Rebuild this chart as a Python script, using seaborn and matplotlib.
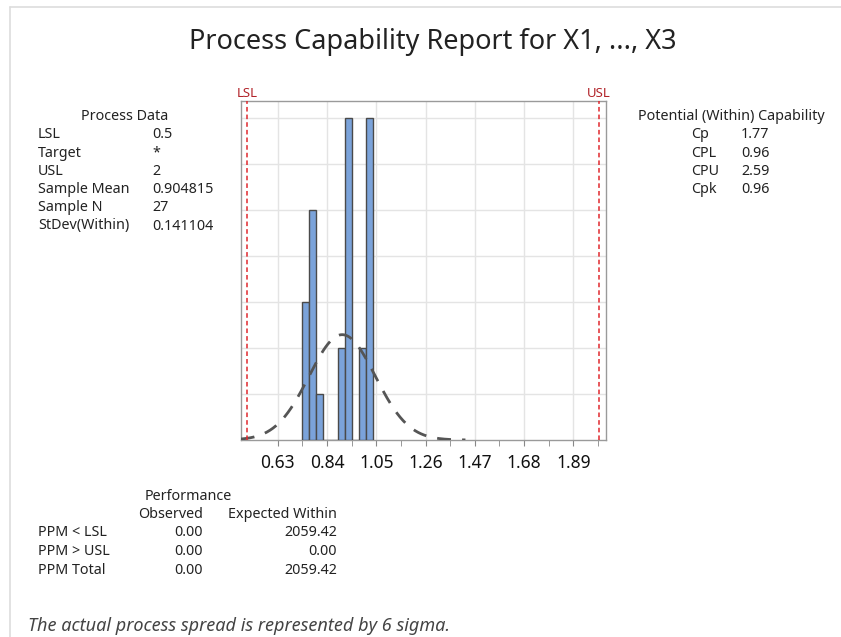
import numpy as np
import pandas as pd
import matplotlib.pyplot as plt
import seaborn as sns
from matplotlib.lines import Line2D

# ---- data ----
bin_edges = [0.735, 0.765, 0.795, 0.825, 0.855, 0.885, 0.915, 0.945, 0.975, 1.005, 1.035]
bin_counts = [3, 5, 1, 0, 0, 2, 7, 0, 2, 7]
lsl = 0.5
usl = 2.0
sample_mean = 0.904815
stdev_within = 0.141104
sample_n = 27
x_ticks = [0.63, 0.84, 1.05, 1.26, 1.47, 1.68, 1.89]

process_labels = ["LSL", "Target", "USL", "Sample Mean", "Sample N", "StDev(Within)"]
process_values = ["0.5", "*", "2", "0.904815", "27", "0.141104"]
cap_labels = ["Cp", "CPL", "CPU", "Cpk"]
cap_values = ["1.77", "0.96", "2.59", "0.96"]
perf_labels = ["PPM < LSL", "PPM > USL", "PPM Total"]
perf_observed = ["0.00", "0.00", "0.00"]
perf_expected = ["2059.42", "0.00", "2059.42"]

sns.set_style("white")
plt.rcParams['font.family'] = ['Noto Sans', 'DejaVu Sans']
TXT = "#222222"
FS = 10.3

fig = plt.figure(figsize=(8.41, 6.37), dpi=100)
W, H = 841, 637

def px(x, y):
    return x / W, 1 - y / H

# light frame like the report panel
fig.add_artist(Line2D([10 / W, 10 / W], [0, 1 - 7 / H], color="#dddddd", lw=1.2))
fig.add_artist(Line2D([10 / W, 1], [1 - 7 / H, 1 - 7 / H], color="#dddddd", lw=1.2))

ax = fig.add_axes([240.7 / W, 1 - 440 / H, (606 - 240.7) / W, (440 - 101) / H])

centers = [(bin_edges[i] + bin_edges[i + 1]) / 2 for i in range(len(bin_counts))]
df = pd.DataFrame({"x": centers, "n": bin_counts})
sns.histplot(data=df, x="x", weights="n", bins=bin_edges, ax=ax,
             color="#7BA3DA", edgecolor="#4a4a4a", linewidth=1.0, alpha=1, zorder=3)

# fitted normal (within) curve, scaled to counts
bw = bin_edges[1] - bin_edges[0]
xs = np.linspace(0.4723, 1.43, 300)
ys = sample_n * bw * np.exp(-0.5 * ((xs - sample_mean) / stdev_within) ** 2) / (stdev_within * np.sqrt(2 * np.pi))
sns.lineplot(x=xs, y=ys, ax=ax, color="#555555", lw=2, linestyle=(0, (5, 4)), zorder=4)

for v, lab in [(lsl, "LSL"), (usl, "USL")]:
    ax.axvline(v, color="#E0282E", lw=1.1, linestyle=(0, (3, 2)), zorder=5)
    ax.text(v, 1.003, lab, transform=ax.get_xaxis_transform(), ha="center", va="bottom",
            color="#B2242A", fontsize=9.5, fontweight="medium")

ax.set_xlim(0.4723, 2.029)
ax.set_ylim(0, 7.37)
ax.set_xticks(x_ticks)
ax.set_xticks([t + 0.105 for t in [0.525] + x_ticks], minor=True)
ax.set_yticks(range(1, 8))
ax.set_yticklabels([])
ax.tick_params(axis="y", length=0)
ax.tick_params(axis="x", which="both", direction="out", length=4, color="#888888", bottom=True)
ax.tick_params(axis="x", which="major", labelsize=12.5, labelcolor="#111111", pad=6)
for t in ax.get_xticklabels():
    t.set_fontweight("medium")
ax.grid(True, color="#e4e4e4", lw=1, zorder=0)
ax.set_axisbelow(True)
ax.set_xlabel("")
ax.set_ylabel("")
for s in ax.spines.values():
    s.set_color("#9a9a9a")
    s.set_linewidth(1)

fig.text(*px(433, 42), "Process Capability Report for X1, ..., X3", ha="center", va="center",
         fontsize=19.5, color="#222222", fontweight="medium")

# Process Data
fig.text(*px(125, 117), "Process Data", ha="center", va="center", fontsize=FS, color=TXT)
for i, (l, v) in enumerate(zip(process_labels, process_values)):
    y = 135 + i * 18.2
    fig.text(*px(38, y), l, ha="left", va="center", fontsize=FS, color=TXT)
    fig.text(*px(152, y), v, ha="left", va="center", fontsize=FS, color=TXT)

# Potential capability
fig.text(*px(731, 117), "Potential (Within) Capability", ha="center", va="center", fontsize=FS, color=TXT)
for i, (l, v) in enumerate(zip(cap_labels, cap_values)):
    y = 135 + i * 18.2
    fig.text(*px(691, y), l, ha="left", va="center", fontsize=FS, color=TXT)
    fig.text(*px(741, y), v, ha="left", va="center", fontsize=FS, color=TXT)

# Performance
fig.text(*px(188, 496), "Performance", ha="center", va="center", fontsize=FS, color=TXT)
fig.text(*px(203, 515), "Observed", ha="right", va="center", fontsize=FS, color=TXT)
fig.text(*px(337, 515), "Expected Within", ha="right", va="center", fontsize=FS, color=TXT)
for i, (l, o, e) in enumerate(zip(perf_labels, perf_observed, perf_expected)):
    y = 533 + i * 18.5
    fig.text(*px(38, y), l, ha="left", va="center", fontsize=FS, color=TXT)
    fig.text(*px(203, y), o, ha="right", va="center", fontsize=FS, color=TXT)
    fig.text(*px(337, y), e, ha="right", va="center", fontsize=FS, color=TXT)

fig.text(*px(28, 626), "The actual process spread is represented by 6 sigma.", ha="left", va="center",
         fontsize=13, style="italic", color="#444444")

fig.savefig("out.png", dpi=100)
